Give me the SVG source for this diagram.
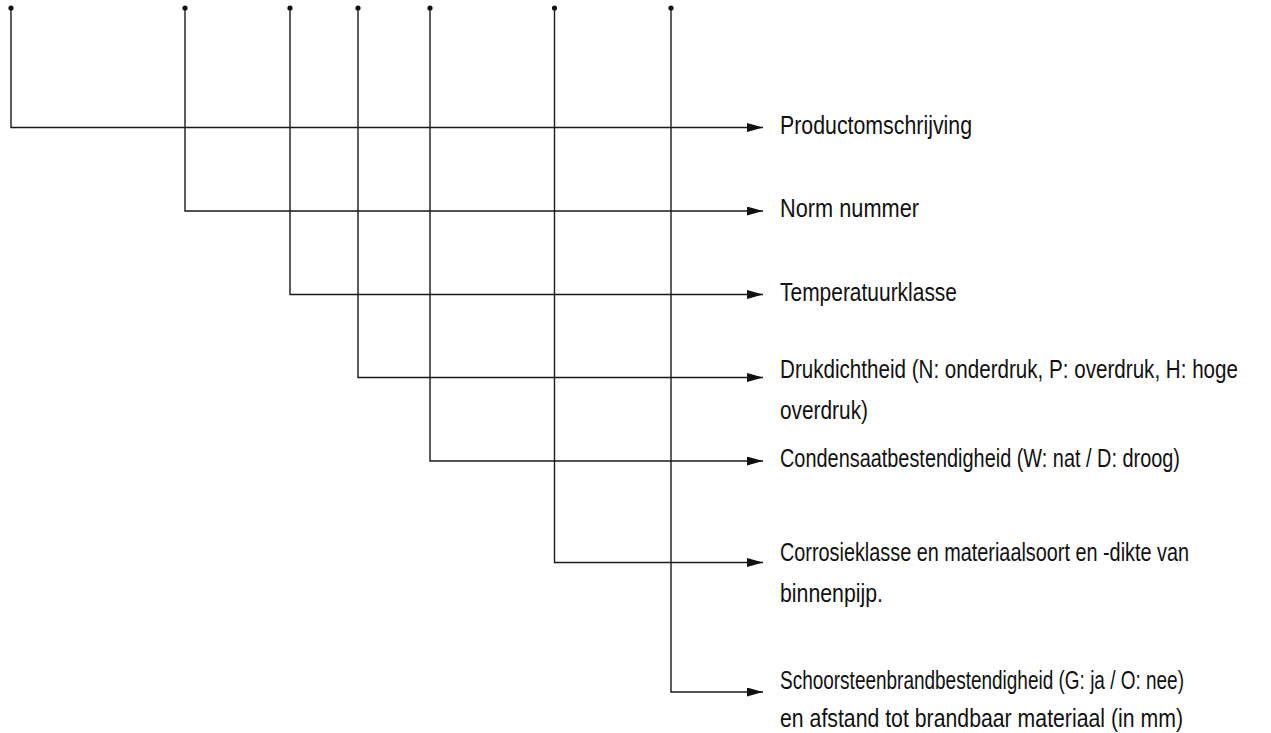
<svg xmlns="http://www.w3.org/2000/svg" width="1271" height="733" viewBox="0 0 1271 733">
<style>
.bg{fill:#ffffff}
.wire{fill:none;stroke:#1a1a1a;stroke-width:1.4;marker-end:url(#arrow)}
.dot{fill:#111111}
.lbl{font-family:"Liberation Sans",Arial,sans-serif;font-size:25px;fill:#111111}
</style>
<defs>
<marker id="arrow" markerUnits="userSpaceOnUse" markerWidth="17" markerHeight="10" refX="16" refY="4.5" orient="auto">
<path d="M0,0 L16,4.5 L0,9 z" fill="#111111"/>
</marker>
</defs>
<rect class="bg" x="0" y="0" width="1271" height="733"/>
<g id="connectors">
<path class="wire" d="M11,8 V127.5 H763"/>
<path class="wire" d="M185,8 V211 H763"/>
<path class="wire" d="M290,8 V294.5 H763"/>
<path class="wire" d="M358,8 V377.5 H763"/>
<path class="wire" d="M430,8 V461 H763"/>
<path class="wire" d="M554.5,8 V562.5 H763"/>
<path class="wire" d="M671,8 V692 H763"/>
<circle class="dot" cx="11" cy="8" r="2.6"/>
<circle class="dot" cx="185" cy="8" r="2.6"/>
<circle class="dot" cx="290" cy="8" r="2.6"/>
<circle class="dot" cx="358" cy="8" r="2.6"/>
<circle class="dot" cx="430" cy="8" r="2.6"/>
<circle class="dot" cx="554.5" cy="8" r="2.6"/>
<circle class="dot" cx="671" cy="8" r="2.6"/>
</g>
<g id="node-productomschrijving">
<text class="lbl" transform="translate(780,133.5) scale(0.8,1)" textLength="240" lengthAdjust="spacingAndGlyphs">Productomschrijving</text>
</g>
<g id="node-norm-nummer">
<text class="lbl" transform="translate(780,217) scale(0.8,1)" textLength="173.75" lengthAdjust="spacingAndGlyphs">Norm nummer</text>
</g>
<g id="node-temperatuurklasse">
<text class="lbl" transform="translate(780,300.5) scale(0.8,1)" textLength="221.25" lengthAdjust="spacingAndGlyphs">Temperatuurklasse</text>
</g>
<g id="node-drukdichtheid">
<text class="lbl" transform="translate(780,378) scale(0.8,1)" textLength="572.5" lengthAdjust="spacingAndGlyphs">Drukdichtheid (N: onderdruk, P: overdruk, H: hoge</text>
<text class="lbl" transform="translate(780,419) scale(0.8,1)" textLength="110" lengthAdjust="spacingAndGlyphs">overdruk)</text>
</g>
<g id="node-condensaatbestendigheid">
<text class="lbl" transform="translate(780,467) scale(0.8,1)" textLength="500" lengthAdjust="spacingAndGlyphs">Condensaatbestendigheid (W: nat / D: droog)</text>
</g>
<g id="node-corrosieklasse">
<text class="lbl" transform="translate(780,561) scale(0.8,1)" textLength="511.25" lengthAdjust="spacingAndGlyphs">Corrosieklasse en materiaalsoort en -dikte van</text>
<text class="lbl" transform="translate(780,602) scale(0.8,1)" textLength="128.75" lengthAdjust="spacingAndGlyphs">binnenpijp.</text>
</g>
<g id="node-schoorsteenbrandbestendigheid">
<text class="lbl" transform="translate(780,689) scale(0.8,1)" textLength="505" lengthAdjust="spacingAndGlyphs">Schoorsteenbrandbestendigheid (G: ja / O: nee)</text>
<text class="lbl" transform="translate(780,727) scale(0.8,1)" textLength="503.75" lengthAdjust="spacingAndGlyphs">en afstand tot brandbaar materiaal (in mm)</text>
</g>
</svg>
